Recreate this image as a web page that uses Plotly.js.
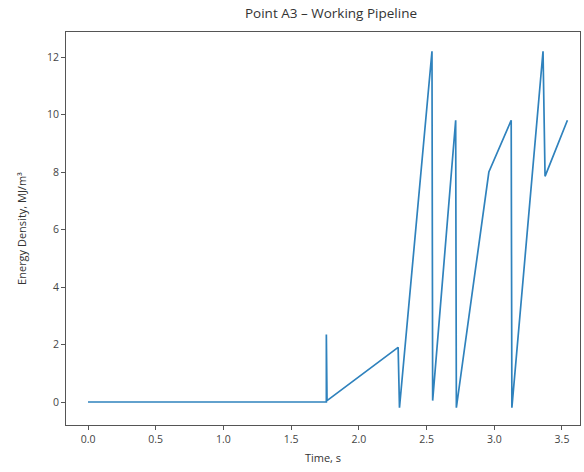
<!DOCTYPE html>
<html>
<head>
<meta charset="utf-8">
<script src="https://cdn.plot.ly/plotly-3.0.1.min.js"></script>
<style>html,body{margin:0;padding:0;background:#fff;}#chart{width:584px;height:472px;}</style>
</head>
<body>
<div id="chart"></div>
<script>
const timeS = [0, 1.76, 1.76, 1.765, 2.29, 2.30, 2.54, 2.545, 2.715, 2.72, 2.96, 3.125, 3.13, 3.36, 3.375, 3.54];
const energyDensity = [0, 0, 2.35, 0.05, 1.9, -0.2, 12.2, 0.05, 9.8, -0.2, 8.0, 9.8, -0.2, 12.2, 7.85, 9.8];
const xTicks = [0, 0.5, 1, 1.5, 2, 2.5, 3, 3.5];
const xTickLabels = ['0.0', '0.5', '1.0', '1.5', '2.0', '2.5', '3.0', '3.5'];
const yTicks = [0, 2, 4, 6, 8, 10, 12];

const font = "'Open Sans', 'Noto Sans', sans-serif";
const axisCommon = {
  showline: true, mirror: true, linecolor: '#555', linewidth: 1,
  ticks: 'outside', ticklen: 4, tickwidth: 1, tickcolor: '#555',
  showgrid: false, zeroline: false,
  tickfont: {family: font, size: 10.5, color: '#444'}
};

Plotly.newPlot('chart', [{
  x: timeS, y: energyDensity, type: 'scatter', mode: 'lines',
  line: {color: '#2f82bd', width: 1.7}
}], {
  width: 584, height: 472,
  margin: {l: 66, r: 4, t: 32, b: 47},
  paper_bgcolor: '#fff', plot_bgcolor: '#fff',
  showlegend: false,
  title: {text: 'Point A3 – Working Pipeline', font: {family: font, size: 13.5, color: '#333'}, x: 331/584, xanchor: 'center', y: 0.972, yanchor: 'middle'},
  xaxis: Object.assign({}, axisCommon, {
    range: [-0.1625, 3.633], tickvals: xTicks, ticktext: xTickLabels,
    title: {text: 'Time, s', font: {family: font, size: 11, color: '#333'}, standoff: 9}
  }),
  yaxis: Object.assign({}, axisCommon, {
    range: [-0.8, 12.87], tickvals: yTicks,
    title: {text: 'Energy Density, MJ/m³', font: {family: font, size: 11, color: '#333'}, standoff: 18}
  })
}, {displayModeBar: false, staticPlot: true});
</script>
</body>
</html>
